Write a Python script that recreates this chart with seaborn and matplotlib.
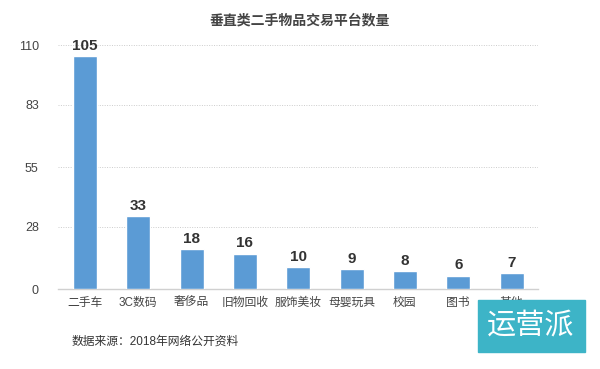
import matplotlib
matplotlib.use("Agg")
import matplotlib.pyplot as plt
import seaborn as sns
import pandas as pd

categories = ["二手车", "3C数码", "奢侈品", "旧物回收", "服饰美妆", "母婴玩具", "校园", "图书", "其他"]
values = [105, 33, 18, 16, 10, 9, 8, 6, 7]
yticks = [0, 28, 55, 83, 110]

sns.set_theme(style="white")
plt.rcParams['font.family'] = ['Liberation Sans', 'Noto Sans CJK SC', 'DejaVu Sans']

df = pd.DataFrame({"cat": categories, "val": values})
fig = plt.figure(figsize=(6, 3.69), dpi=100)
ax = fig.add_axes([0.097, 0.2168, 0.8, 0.661])
sns.barplot(data=df, x="cat", y="val", color="#5b9bd5", saturation=1, width=0.45, ax=ax, zorder=3)

ax.set_ylim(0, 110)
ax.set_yticks(yticks)
ax.set_xlim(-0.5, len(categories) - 0.5)
ax.yaxis.grid(True, linestyle=(0, (1, 1.5)), color="#cccccc", linewidth=0.7, zorder=0)
ax.set_xlabel("")
ax.set_ylabel("")
for s in ["top", "right", "left"]:
    ax.spines[s].set_visible(False)
ax.spines["bottom"].set_color("#d0d0d0")
ax.spines["bottom"].set_linewidth(1)
ax.tick_params(axis="y", length=0, labelsize=9, labelcolor="#444444", pad=14)
ax.tick_params(axis="x", length=0, labelsize=8.5, labelcolor="#444444", pad=6)

for i, v in enumerate(values):
    ax.text(i, v + 1.5, str(v), ha="center", va="bottom", fontsize=11,
            fontweight="bold", color="#333333")

fig.text(0.5, 0.945, "垂直类二手物品交易平台数量", ha="center", va="center",
         fontsize=10, fontweight="bold", color="#444444")
fig.text(0.12, 0.075, "数据来源：2018年网络公开资料", ha="left", va="center",
         fontsize=8.5, color="#333333")

# watermark
fig.patches.append(matplotlib.patches.Rectangle((478/600, 1-352/369), 107/600, 52/369,
                   transform=fig.transFigure, color="#3db4c7", zorder=10))
fig.text(531/600, 1-326/369, "运营派", ha="center", va="center", fontsize=21,
         color="white", zorder=11)

fig.savefig("out.png", dpi=100)
